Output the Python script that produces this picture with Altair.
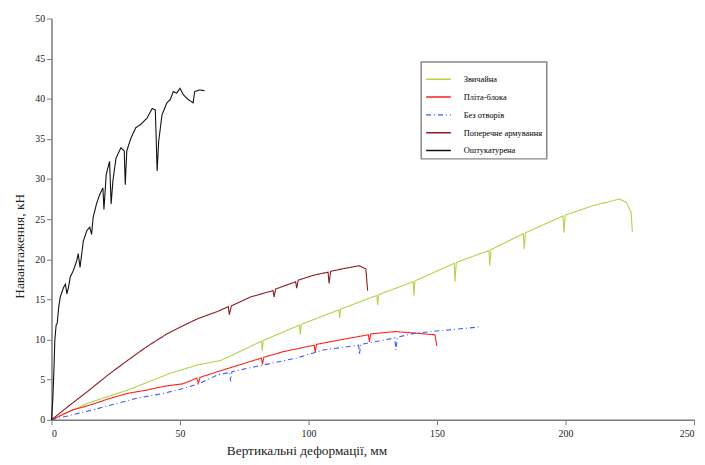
import altair as alt
import pandas as pd

series_names = ["Звичайна", "Пліта-блока", "Без отворів", "Поперечне армування", "Оштукатурена"]
series_colors = ["#b2d44a", "#ff2020", "#3a5cff", "#8b1a22", "#111111"]

x_zv = [0, 14.3, 29.6, 46.2, 56.9, 65.9, 81.7, 82.0, 82.4, 96.5, 96.8, 97.2, 111.8, 112.1, 112.5,
        126.6, 126.9, 127.3, 140.7, 141.0, 141.4, 156.7, 157.0, 157.5, 170.2, 170.5, 171.0,
        183.6, 183.9, 184.4, 199.0, 199.4, 199.9, 210.8, 221.0, 223.6, 225.5, 226.0]
y_zv = [0, 2.1, 3.7, 5.8, 6.85, 7.4, 9.8, 8.6, 9.9, 11.8, 10.6, 11.9, 13.7, 12.7, 13.8,
        15.5, 14.3, 15.6, 17.2, 15.5, 17.3, 19.5, 17.2, 19.6, 21.1, 19.2, 21.2,
        23.2, 21.3, 23.3, 25.4, 23.3, 25.5, 26.7, 27.5, 27.1, 25.9, 23.4]

x_pb = [0, 7.9, 15.6, 22, 29.6, 37, 44, 51.3, 56.5, 57.2, 57.8, 62.8, 64.6, 81.7, 82.1, 82.6,
        90.3, 102.2, 102.6, 103.1, 114.6, 123.3, 123.7, 124.2, 133.8, 141.5, 149.2, 149.9]
y_pb = [0, 1.2, 1.9, 2.6, 3.3, 3.7, 4.2, 4.5, 5.2, 4.6, 5.3, 5.8, 6.0, 7.7, 6.9, 7.8,
        8.5, 9.3, 8.4, 9.4, 10.1, 10.6, 9.7, 10.7, 11.0, 10.8, 10.6, 9.2]

x_bo = [0, 15.6, 25, 33.4, 43.6, 51.3, 58, 64.6, 69.4, 69.7, 70.2, 82.6, 95.4, 105.6, 119.5,
        119.8, 120.3, 133.6, 134.0, 134.6, 141.5, 154.4, 167.2]
y_bo = [0, 1.2, 2.0, 2.7, 3.3, 3.9, 4.6, 5.6, 5.9, 4.8, 6.0, 6.85, 7.7, 8.7, 9.3,
        8.1, 9.4, 10.2, 8.7, 10.3, 10.8, 11.2, 11.6]

x_pa = [0, 7, 14.3, 22, 29.6, 37, 44.9, 51, 56.9, 64.6, 68.8, 69.2, 70, 77.4, 86.2, 86.6, 87.2,
        95.0, 95.4, 96, 101.8, 107.6, 108, 108.6, 113, 119.7, 122.3, 123]
y_pa = [0, 1.8, 3.6, 5.6, 7.4, 9.1, 10.7, 11.7, 12.6, 13.5, 14.1, 13.1, 14.2, 15.3, 16.1, 15.3, 16.3,
        17.2, 16.4, 17.4, 18.0, 18.4, 17.0, 18.5, 18.8, 19.2, 18.8, 16.1]

x_sh = [0, 0.5, 0.9, 1.3, 1.8, 2.2, 2.8, 3.4, 4.7, 5.4, 6.0, 6.6, 7.3, 8.5, 9.8, 10.4, 11.1, 12.4,
        13.8, 14.9, 15.6, 16.2, 17.5, 18.8, 20.0, 20.4, 21.3, 22.6, 23.2, 23.9, 25.1, 27.0, 28.3,
        28.7, 29.3, 30.9, 32.8, 34.7, 37.2, 39.2, 40.4, 41.1, 41.7, 43.0, 44.9, 46.2, 47.4, 48.7,
        50.0, 51.3, 53.2, 55.1, 55.7, 57.7, 59.6]
y_sh = [0, 2.5, 5.8, 9.9, 11.8, 12.0, 14.0, 15.3, 16.5, 16.9, 15.7, 16.5, 17.8, 18.6, 19.8, 20.7, 19.0, 22.3,
        23.6, 24.0, 23.1, 25.2, 26.9, 28.1, 28.9, 26.2, 30.6, 32.2, 26.9, 29.8, 32.6, 33.9, 33.5,
        29.3, 33.5, 35.1, 36.4, 36.8, 37.6, 38.8, 38.6, 31.0, 34.7, 38.0, 39.5, 39.9, 40.9, 40.7,
        41.3, 40.5, 39.9, 39.5, 40.9, 41.1, 41.0]

x_ticks = [0, 50, 100, 150, 200, 250]
y_ticks = [0, 5, 10, 15, 20, 25, 30, 35, 40, 45, 50]

rows = []
for name, xs, ys in zip(series_names,
                        [x_zv, x_pb, x_bo, x_pa, x_sh],
                        [y_zv, y_pb, y_bo, y_pa, y_sh]):
    for i, (xv, yv) in enumerate(zip(xs, ys)):
        rows.append({"s": name, "x": xv, "y": yv, "i": i})
df = pd.DataFrame(rows)

font = "Liberation Serif"
axis_color = "#7a7a7a"

chart = alt.Chart(df).mark_line(strokeWidth=1.1).encode(
    x=alt.X("x:Q", scale=alt.Scale(domain=[0, 250], nice=False),
            axis=alt.Axis(values=x_ticks, title="Вертикальні деформації, мм", grid=False,
                          titleX=258, titleY=24, titleFontWeight="normal", titleFontSize=13.5,
                          labelFontSize=10, tickSize=5, labelPadding=4)),
    y=alt.Y("y:Q", scale=alt.Scale(domain=[0, 50], nice=False),
            axis=alt.Axis(values=y_ticks, title="Навантаження, кН", grid=False,
                          titleX=-32, titleY=230, titleBaseline="middle",
                          titleFontWeight="normal", titleFontSize=13.5,
                          labelFontSize=10, tickSize=5, labelPadding=2)),
    color=alt.Color("s:N", scale=alt.Scale(domain=series_names, range=series_colors),
                    legend=alt.Legend(title=None, orient="none", legendX=374, legendY=44,
                                      symbolType="stroke", symbolSize=625, symbolStrokeWidth=1.5,
                                      labelFontSize=8.5, labelFont=font, rowPadding=-1,
                                      padding=4, fillColor="white", strokeColor="#888888",
                                      labelOffset=12, labelLimit=200)),
    strokeDash=alt.StrokeDash("s:N", scale=alt.Scale(domain=series_names,
                                                     range=[[1, 0], [1, 0], [5, 3, 1, 3], [1, 0], [1, 0]]),
                              legend=None),
    order="i:Q",
).properties(
    width=650, height=406,
    autosize=alt.AutoSizeParams(type="none"),
    padding={"left": 44, "top": 8, "right": 3, "bottom": 38},
).configure_view(stroke=None).configure_axis(
    domainColor=axis_color, domainWidth=1.5, tickColor=axis_color,
    labelFont=font, titleFont=font, labelColor="#222", titleColor="#222",
).configure_legend(strokeWidth=1.5)

chart.save("out.html", embed_options={"renderer": "svg", "actions": False})
